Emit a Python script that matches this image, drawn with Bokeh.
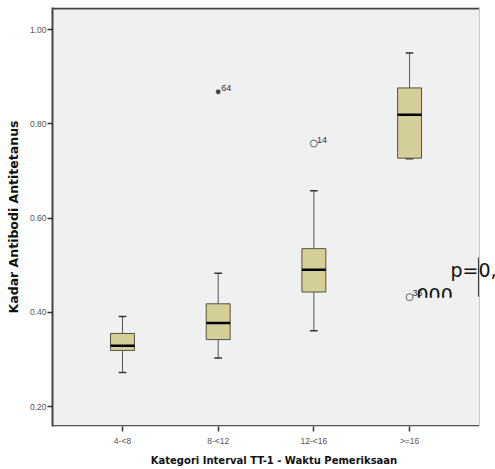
from bokeh.plotting import figure
from bokeh.models import (ColumnDataSource, Label, BoxAnnotation, FixedTicker, Span)
from bokeh.core.properties import value
from bokeh.transform import dodge
from bokeh.embed import file_html
from bokeh.resources import INLINE

categories = ["4-<8", "8-<12", "12-<16", ">=16"]
whisker_low = [0.272, 0.303, 0.361, 0.726]
q1 = [0.319, 0.342, 0.443, 0.727]
median = [0.329, 0.377, 0.490, 0.819]
q3 = [0.355, 0.418, 0.535, 0.876]
whisker_high = [0.391, 0.483, 0.658, 0.950]

outlier_group = [2, 3, 4]          # 1-based category index
outlier_val = [0.868, 0.758, 0.432]
outlier_id = ["64", "14", "35"]
outlier_extreme = [True, False, False]

y_ticks = [0.20, 0.40, 0.60, 0.80, 1.00]
y_tick_labels = ["0.20", "0.40", "0.60", "0.80", "1.00"]

FONT = "Liberation Sans"
x_pos = list(range(1, len(categories) + 1))

X0, X1 = 0.2685, 4.898
Y0, Y1 = 0.1576, 1.0467
X_PANEL_END = 4.730   # right edge of the grey panel

p = figure(width=495, height=469, output_backend="svg", toolbar_location=None,
           x_range=(X0, X1), y_range=(Y0, Y1),
           min_border_left=52, min_border_right=0, min_border_top=7,
           min_border_bottom=43)
p.background_fill_color = "white"
p.border_fill_color = "white"
p.outline_line_color = None
p.grid.visible = False

# grey panel and its borders
p.add_layout(BoxAnnotation(right=X_PANEL_END, fill_color="#f0f0f0", fill_alpha=1.0,
                           line_color=None, level="underlay"))
p.add_layout(BoxAnnotation(right=X_PANEL_END, bottom=Y1 - 0.0045, fill_color="#444444",
                           fill_alpha=1.0, line_color=None, level="underlay"))
p.add_layout(BoxAnnotation(right=X_PANEL_END, top=Y0 + 0.0032, fill_color="#555555",
                           fill_alpha=1.0, line_color=None, level="underlay"))
p.add_layout(Span(location=X_PANEL_END, dimension="height", line_color="#c4c4c4",
                  line_width=1, level="underlay"))

src = ColumnDataSource(dict(x=x_pos, lo=whisker_low, q1=q1, med=median,
                            q3=q3, hi=whisker_high))

# whiskers
p.segment(x0="x", y0="lo", x1="x", y1="q1", source=src, line_color="#555555", line_width=1)
p.segment(x0="x", y0="q3", x1="x", y1="hi", source=src, line_color="#555555", line_width=1)
# caps
p.segment(x0=dodge("x", -0.04), y0="lo", x1=dodge("x", 0.04), y1="lo", source=src,
          line_color="#333333", line_width=1.5)
p.segment(x0=dodge("x", -0.04), y0="hi", x1=dodge("x", 0.04), y1="hi", source=src,
          line_color="#333333", line_width=1.5)
# boxes
p.vbar(x="x", width=0.25, top="q3", bottom="q1", source=src,
       fill_color="#d4cf98", line_color="#55533a", line_width=1)
# medians
p.segment(x0=dodge("x", -0.125), y0="med", x1=dodge("x", 0.125), y1="med", source=src,
          line_color="black", line_width=2.5)

# outliers
ext = [i for i, e in enumerate(outlier_extreme) if e]
mild = [i for i, e in enumerate(outlier_extreme) if not e]
src_ext = ColumnDataSource(dict(x=[outlier_group[i] for i in ext],
                                val=[outlier_val[i] for i in ext]))
src_mild = ColumnDataSource(dict(x=[outlier_group[i] for i in mild],
                                 val=[outlier_val[i] for i in mild]))
p.scatter(x="x", y="val", source=src_ext, marker="asterisk", size=5,
          line_color="#444444", line_width=1.2)
p.scatter(x="x", y="val", source=src_mild, marker="circle", size=7,
          fill_color=None, line_color="#666666", line_width=1)
src_all = ColumnDataSource(dict(x=outlier_group, val=outlier_val, lab=outlier_id))
p.text(x="x", y="val", text="lab", source=src_all, x_offset=3, y_offset=-4,
       text_font_size="9px", text_color="#333333", text_baseline="alphabetic",
       text_font=value(FONT))

# axes
p.xaxis.ticker = FixedTicker(ticks=x_pos)
p.xaxis.major_label_overrides = {x: c for x, c in zip(x_pos, categories)}
p.yaxis.ticker = FixedTicker(ticks=y_ticks)
p.yaxis.major_label_overrides = {t: l for t, l in zip(y_ticks, y_tick_labels)}
for ax in (p.xaxis[0], p.yaxis[0]):
    ax.minor_tick_line_color = None
    ax.major_tick_line_color = "#333333"
    ax.major_tick_line_width = 1.5
    ax.major_tick_out = 5
    ax.major_tick_in = 0
    ax.major_label_text_font = FONT
    ax.major_label_text_font_size = "8.5px"
    ax.major_label_text_color = "#555555"
    ax.axis_label_text_font = "DejaVu Sans"
    ax.axis_label_text_font_style = "bold"
    ax.axis_label_text_color = "#111111"
p.xaxis.axis_line_color = None
p.yaxis.axis_line_color = "#444444"
p.yaxis.axis_line_width = 2
p.yaxis.axis_label_text_font_size = "12.5px"
p.xaxis.axis_label_text_font_size = "10px"
p.yaxis.major_label_standoff = 1
p.xaxis.major_label_standoff = 4
p.yaxis.axis_label = "Kadar Antibodi Antitetanus"
p.xaxis.axis_label = "Kategori Interval TT-1 - Waktu Pemeriksaan"
p.yaxis.axis_label_standoff = 6
p.xaxis.axis_label_standoff = 6

# overlaid text box fragment
p.add_layout(Label(x=4.427, y=0.489, text="p=0,", text_font="DejaVu Sans",
                   text_font_size="19px", text_color="#111111",
                   text_baseline="alphabetic"))
p.add_layout(Label(x=4.072, y=0.436, text="000", text_font="DejaVu Sans",
                   text_font_size="19px", text_color="#111111",
                   text_baseline="alphabetic"))
p.add_layout(BoxAnnotation(left=4.051, right=4.490, top=0.431, bottom=0.405,
                           fill_color="#f0f0f0", fill_alpha=1.0, line_color=None,
                           level="annotation"))
p.segment(x0=[4.720], y0=[0.516], x1=[4.720], y1=[0.433], line_color="#333333", line_width=1)

open("out.html", "w").write(file_html(p, INLINE))
